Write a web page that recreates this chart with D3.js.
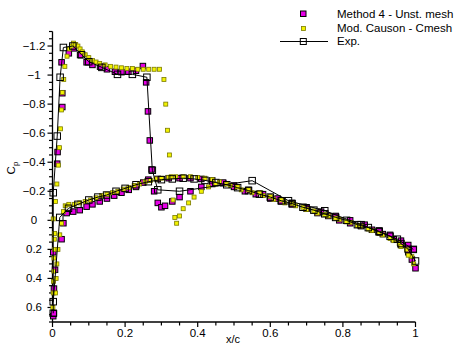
<!DOCTYPE html>
<html><head><meta charset="utf-8">
<script src="https://cdn.jsdelivr.net/npm/d3@7"></script>
<style>
html,body{margin:0;padding:0;background:#fff;}
svg{display:block;font-family:"Liberation Sans",Arial,Helvetica,sans-serif;}
</style></head>
<body>
<svg id="chart" width="456" height="346"></svg>
<script>
// ---- data (x/c, Cp) ----
const m4Upper = [[0.002,0.66],[0.004,0.47],[0.007,0.34],[0.002,0.22],[0.013,-0.39],[0.014,-0.47],[0.027,-0.78],[0.027,-0.875],[0.025,-1.088],[0.045,-1.15],[0.059,-1.184],[0.076,-1.138],[0.094,-1.088],[0.11,-1.07],[0.131,-1.058],[0.15,-1.04],[0.172,-1.023],[0.19,-1.02],[0.209,-1.023],[0.23,-1.03],[0.249,-1.062],[0.258,-0.95],[0.263,-0.75],[0.268,-0.55],[0.273,-0.35],[0.28,-0.2],[0.29,-0.12],[0.3,-0.09],[0.31,-0.1],[0.33,-0.13],[0.35,-0.16],[0.38,-0.2],[0.41,-0.23],[0.44,-0.25],[0.47,-0.255],[0.5,-0.24],[0.54,-0.21],[0.58,-0.18],[0.62,-0.15],[0.66,-0.12],[0.7,-0.09],[0.74,-0.06],[0.78,-0.03],[0.82,0.0],[0.86,0.03],[0.9,0.07],[0.93,0.1],[0.96,0.14],[0.98,0.17],[0.995,0.2]];
const m4Lower = [[0.004,0.64],[0.025,0.13],[0.03,0.02],[0.039,-0.05],[0.057,-0.06],[0.075,-0.07],[0.094,-0.094],[0.11,-0.11],[0.13,-0.13],[0.15,-0.15],[0.17,-0.17],[0.19,-0.19],[0.21,-0.21],[0.23,-0.23],[0.25,-0.26],[0.264,-0.28],[0.29,-0.285],[0.32,-0.29],[0.35,-0.29],[0.38,-0.29],[0.41,-0.285],[0.44,-0.275],[0.47,-0.26],[0.5,-0.23],[0.53,-0.2],[0.56,-0.18],[0.6,-0.15],[0.63,-0.13],[0.66,-0.11],[0.7,-0.08],[0.73,-0.05],[0.76,-0.03],[0.79,0.0],[0.82,0.02],[0.85,0.04],[0.88,0.065],[0.91,0.095],[0.94,0.13],[0.96,0.17],[0.98,0.22],[0.99,0.27],[1.0,0.33]];
const causonUpper = [[0.001,0.6],[0.002,0.5],[0.003,0.42],[0.004,0.35],[0.004,0.26],[0.005,0.2],[0.005,0.13],[0.006,0.09],[0.002,-0.01],[0.008,-0.13],[0.012,-0.25],[0.016,-0.38],[0.019,-0.5],[0.022,-0.63],[0.025,-0.76],[0.027,-0.88],[0.031,-0.97],[0.034,-1.06],[0.04,-1.13],[0.046,-1.18],[0.052,-1.2],[0.058,-1.22],[0.064,-1.21],[0.07,-1.2],[0.076,-1.18],[0.082,-1.16],[0.09,-1.14],[0.1,-1.12],[0.11,-1.1],[0.12,-1.09],[0.13,-1.08],[0.145,-1.07],[0.16,-1.06],[0.175,-1.055],[0.19,-1.05],[0.205,-1.045],[0.22,-1.045],[0.235,-1.04],[0.25,-1.04],[0.265,-1.04],[0.28,-1.04],[0.295,-1.04],[0.307,-0.97],[0.312,-0.8],[0.317,-0.62],[0.322,-0.45],[0.327,-0.3],[0.332,-0.14],[0.337,-0.02],[0.342,0.02],[0.35,-0.03],[0.36,-0.08],[0.375,-0.12],[0.39,-0.16],[0.41,-0.2],[0.43,-0.23],[0.45,-0.25],[0.48,-0.25],[0.51,-0.23],[0.54,-0.21],[0.57,-0.19],[0.6,-0.165],[0.63,-0.14],[0.66,-0.115],[0.69,-0.09],[0.72,-0.065],[0.75,-0.04],[0.78,-0.015],[0.81,0.01],[0.84,0.035],[0.87,0.06],[0.9,0.09],[0.93,0.125],[0.955,0.16],[0.975,0.2],[0.99,0.25]];
const causonLower = [[0.008,0.5],[0.01,0.4],[0.012,0.3],[0.015,0.2],[0.02,0.1],[0.025,0.02],[0.03,-0.06],[0.035,-0.1],[0.045,-0.11],[0.06,-0.11],[0.075,-0.12],[0.09,-0.13],[0.105,-0.14],[0.12,-0.155],[0.135,-0.17],[0.15,-0.18],[0.165,-0.19],[0.18,-0.2],[0.195,-0.215],[0.21,-0.225],[0.225,-0.24],[0.24,-0.25],[0.255,-0.265],[0.27,-0.275],[0.285,-0.285],[0.3,-0.29],[0.32,-0.295],[0.34,-0.3],[0.36,-0.3],[0.38,-0.3],[0.4,-0.295],[0.42,-0.29],[0.44,-0.28],[0.46,-0.265],[0.49,-0.24],[0.52,-0.21],[0.55,-0.19],[0.58,-0.17],[0.61,-0.145],[0.64,-0.12],[0.67,-0.1],[0.7,-0.075],[0.73,-0.05],[0.76,-0.03],[0.79,-0.005],[0.82,0.015],[0.85,0.04],[0.88,0.07],[0.91,0.1],[0.94,0.14],[0.96,0.18],[0.98,0.24],[0.995,0.3]];
const expUpper = [[0.002,0.64],[0.002,-0.19],[0.013,-0.58],[0.021,-0.985],[0.03,-1.19],[0.056,-1.2],[0.08,-1.14],[0.1,-1.092],[0.136,-1.053],[0.179,-1.005],[0.22,-1.005],[0.26,-0.985],[0.275,-0.345],[0.29,-0.21],[0.35,-0.2],[0.55,-0.273],[0.65,-0.135],[0.75,-0.066],[0.85,0.03],[0.9,0.075],[0.95,0.13],[0.994,0.2]];
const expLower = [[0.002,0.56],[0.02,-0.02],[0.044,-0.083],[0.07,-0.11],[0.1,-0.14],[0.125,-0.16],[0.149,-0.174],[0.175,-0.2],[0.2,-0.22],[0.23,-0.245],[0.264,-0.266],[0.3,-0.28],[0.33,-0.285],[0.36,-0.29],[0.39,-0.285],[0.42,-0.275],[0.45,-0.26],[0.48,-0.245],[0.51,-0.225],[0.54,-0.205],[0.57,-0.18],[0.6,-0.16],[0.63,-0.135],[0.66,-0.115],[0.69,-0.09],[0.72,-0.07],[0.75,-0.045],[0.78,-0.02],[0.81,0.0],[0.84,0.03],[0.87,0.05],[0.9,0.08],[0.93,0.11],[0.96,0.16],[0.98,0.2],[1.0,0.28]];
const xTicks = [0,0.2,0.4,0.6,0.8,1];
const yTicks = [-1.2,-1,-0.8,-0.6,-0.4,-0.2,0,0.2,0.4,0.6];
const legendLabels = ["Method 4 - Unst. mesh","Mod. Causon - Cmesh","Exp."];

// ---- layout ----
const svg = d3.select("#chart");
const x = d3.scaleLinear().domain([0,1]).range([52.5,415.5]);
const y = d3.scaleLinear().domain([-1.3,0.7]).range([31.5,322]);
const fmt = d => d3.format("")(+d.toFixed(2));

// axes
const xMinor = d3.range(0,1.0001,0.05);
const yMinor = d3.range(-1.3,0.7001,0.05);
const ax = svg.append("g").attr("fill","none").attr("stroke","#000");
ax.append("line").attr("x1",x(0)).attr("x2",x(1)).attr("y1",y(0.7)).attr("y2",y(0.7)).attr("stroke-width",1.3);
ax.append("line").attr("x1",x(0)).attr("x2",x(0)).attr("y1",y(-1.3)).attr("y2",y(0.7)).attr("stroke-width",1.3);
ax.selectAll(".xm").data(xMinor).join("line")
  .attr("x1",d=>x(d)).attr("x2",d=>x(d)).attr("y1",y(0.7)).attr("y2",d=>y(0.7)+(xTicks.some(t=>Math.abs(t-d)<1e-6)?5:3.5)).attr("stroke-width",1.2);
ax.selectAll(".ym").data(yMinor).join("line")
  .attr("y1",d=>y(d)).attr("y2",d=>y(d)).attr("x1",x(0)).attr("x2",d=>x(0)-(yTicks.some(t=>Math.abs(t-d)<1e-6)?5:3.5)).attr("stroke-width",1.2);

svg.append("g").selectAll("text").data(xTicks).join("text")
  .attr("x",d=>x(d)).attr("y",337).attr("text-anchor","middle").attr("font-size",11.5).text(fmt);
svg.append("g").selectAll("text").data(yTicks).join("text")
  .attr("x",34).attr("y",d=>y(d)+4).attr("text-anchor","middle").attr("font-size",11.5).text(fmt);
svg.append("text").attr("x",233).attr("y",343).attr("text-anchor","middle").attr("font-size",11).text("x/c");
const cp = svg.append("text").attr("transform","translate(15,168) rotate(-90)").attr("text-anchor","middle").attr("font-size",11.5);
cp.append("tspan").text("C");
cp.append("tspan").attr("font-size",8).attr("dy",3).text("p");

// ---- series ----
function squares(data, size, fill, stroke, sw){
  svg.append("g").selectAll("rect").data(data).join("rect")
    .attr("x",d=>x(d[0])-size/2).attr("y",d=>y(d[1])-size/2)
    .attr("width",size).attr("height",size)
    .attr("fill",fill).attr("stroke",stroke).attr("stroke-width",sw);
}
squares(m4Upper,5.5,"#e600e6","#000",1);
squares(m4Lower,5.5,"#e600e6","#000",1);
squares(causonUpper,4,"#f2f200","#7a7a00",0.8);
squares(causonLower,4,"#f2f200","#7a7a00",0.8);
const line = d3.line().x(d=>x(d[0])).y(d=>y(d[1]));
[expUpper,expLower].forEach(s=>{
  svg.append("path").datum(s).attr("d",line).attr("fill","none").attr("stroke","#000").attr("stroke-width",1);
  squares(s,6.5,"none","#000",1);
});

// ---- legend ----
const lg = svg.append("g");
lg.append("rect").attr("x",300.5).attr("y",11).attr("width",5.5).attr("height",5.5).attr("fill","#e600e6").attr("stroke","#000");
lg.append("rect").attr("x",301.5).attr("y",26.5).attr("width",4).attr("height",4).attr("fill","#f2f200").attr("stroke","#7a7a00").attr("stroke-width",0.8);
lg.append("line").attr("x1",280).attr("x2",328).attr("y1",41.5).attr("y2",41.5).attr("stroke","#000");
lg.append("rect").attr("x",300.3).attr("y",38.5).attr("width",6).attr("height",6).attr("fill","none").attr("stroke","#000");
lg.selectAll("text").data(legendLabels).join("text")
  .attr("x",337).attr("y",(d,i)=>18.3+i*13.5).attr("font-size",11.5).text(d=>d);
</script>
</body></html>
